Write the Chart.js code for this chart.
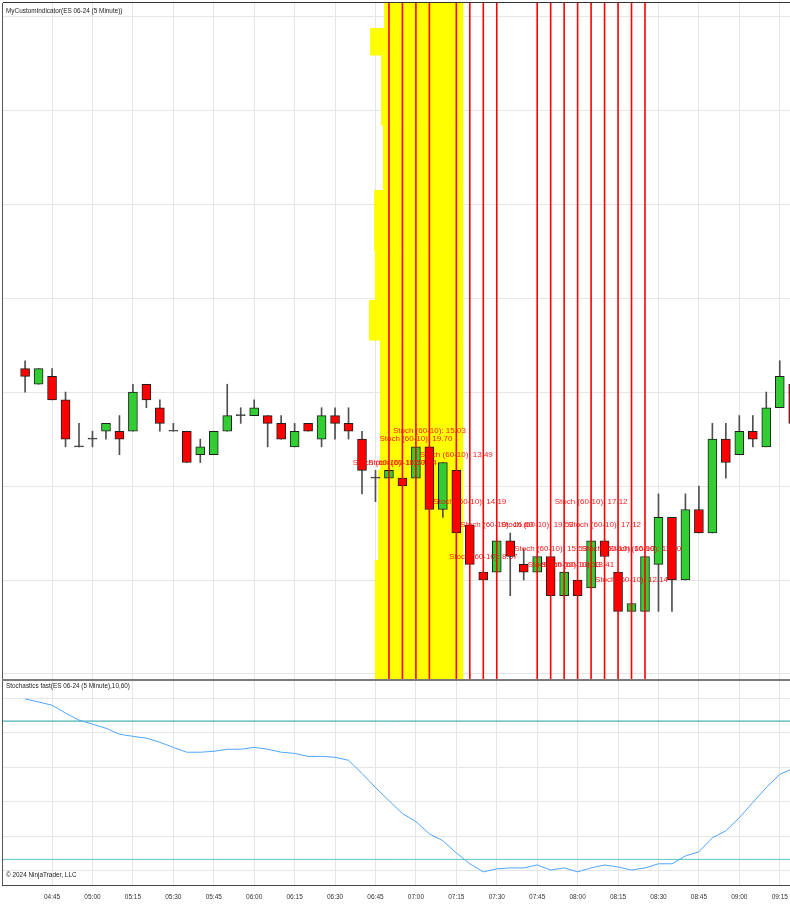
<!DOCTYPE html>
<html>
<head>
<meta charset="utf-8">
<title>MyCustomIndicator ES 06-24 (5 Minute)</title>
<script src="https://cdn.jsdelivr.net/npm/chart.js@4.4.1/dist/chart.umd.min.js"></script>
<style>
    html, body { margin: 0; padding: 0; background: #fff; overflow: hidden; }
    body { width: 790px; height: 905px; position: relative; font-family: 'Liberation Sans', Arial, sans-serif; }
    #mainWrap { position: absolute; left: 0; top: 0; width: 790px; height: 681px; }
    #stochWrap { position: absolute; left: 0; top: 681px; width: 790px; height: 224px; }
    .panel-title { position: absolute; left: 6px; font-size: 6.4px; line-height: 8px; color: #222; white-space: nowrap; }
</style>
</head>
<body>
<div id="mainWrap"><canvas id="mainChart" width="790" height="681"></canvas></div>
<div id="stochWrap"><canvas id="stochChart" width="790" height="224"></canvas></div>
<div class="panel-title" style="top:7px">MyCustomIndicator(ES 06-24 (5 Minute))</div>
<div class="panel-title" style="top:682px">Stochastics fast(ES 06-24 (5 Minute),10,60)</div>
<div class="panel-title" style="top:871px">© 2024 NinjaTrader, LLC</div>
<script>
// 5 minute bars, ES 06-24
const barTimes = ['04:35','04:40','04:45','04:50','04:55','05:00','05:05','05:10','05:15','05:20',
    '05:25','05:30','05:35','05:40','05:45','05:50','05:55','06:00','06:05','06:10',
    '06:15','06:20','06:25','06:30','06:35','06:40','06:45','06:50','06:55','07:00',
    '07:05','07:10','07:15','07:20','07:25','07:30','07:35','07:40','07:45','07:50',
    '07:55','08:00','08:05','08:10','08:15','08:20','08:25','08:30','08:35','08:40',
    '08:45','08:50','08:55','09:00','09:05','09:10','09:15','09:20'];

const openP = [5301.75,5301.25,5301.50,5300.75,5299.25,5299.50,5299.75,5299.75,5299.75,5301.25,
    5300.50,5299.75,5299.75,5299.00,5299.00,5299.75,5300.25,5300.25,5300.25,5300.00,
    5299.25,5300.00,5299.50,5300.25,5300.00,5299.50,5298.25,5298.25,5298.25,5298.25,
    5299.25,5297.25,5298.50,5296.75,5295.25,5295.25,5296.25,5295.50,5295.25,5295.75,
    5294.50,5295.00,5294.75,5296.25,5295.25,5294.00,5294.00,5295.50,5297.00,5295.00,
    5297.25,5296.50,5299.50,5299.00,5299.75,5299.25,5300.50,5301.25];
const highP = [5302.00,5301.75,5301.75,5301.00,5300.00,5299.75,5300.00,5300.25,5301.25,5301.25,
    5300.75,5300.00,5299.75,5299.50,5299.75,5301.25,5300.50,5300.75,5300.25,5300.25,
    5300.00,5300.00,5300.50,5300.50,5300.50,5299.75,5298.50,5298.50,5298.25,5299.25,
    5299.25,5298.75,5298.50,5296.75,5295.25,5296.25,5296.50,5296.00,5295.75,5295.75,
    5295.25,5295.00,5296.25,5296.25,5295.25,5294.25,5295.75,5297.75,5297.00,5297.75,
    5298.00,5300.00,5300.00,5300.25,5300.25,5301.00,5302.00,5301.25];
const lowP = [5301.00,5301.25,5300.75,5299.25,5299.25,5299.25,5299.50,5299.00,5299.75,5300.50,
    5299.75,5299.75,5298.75,5298.75,5299.00,5299.75,5300.00,5300.25,5299.25,5299.50,
    5299.25,5299.75,5299.25,5299.50,5299.50,5297.75,5297.50,5298.25,5298.00,5298.25,
    5297.25,5297.00,5296.50,5295.50,5295.00,5295.25,5294.50,5295.00,5295.25,5294.50,
    5294.50,5294.50,5294.75,5295.75,5294.00,5294.00,5294.00,5294.00,5294.00,5295.00,
    5296.50,5296.50,5298.25,5299.00,5299.25,5299.25,5300.50,5300.00];
const closeP = [5301.50,5301.75,5300.75,5299.50,5299.25,5299.50,5300.00,5299.50,5301.00,5300.75,
    5300.00,5299.75,5298.75,5299.25,5299.75,5300.25,5300.25,5300.50,5300.00,5299.50,
    5299.75,5299.75,5300.25,5300.00,5299.75,5298.50,5298.25,5298.50,5298.00,5299.25,
    5297.25,5298.75,5296.50,5295.50,5295.00,5296.25,5295.75,5295.25,5295.75,5294.50,
    5295.25,5294.50,5296.25,5295.75,5294.00,5294.25,5295.75,5297.00,5295.00,5297.25,
    5296.50,5299.50,5298.75,5299.75,5299.50,5300.50,5301.50,5300.00];

// Stochastics fast D line (10,60)
const stochD = [89.6,88.3,86.9,83.5,80.4,78.7,76.9,74.3,73.4,72.6,
    70.8,68.6,66.5,66.5,66.9,67.8,67.8,68.6,67.8,66.5,
    66.0,64.7,64.7,64.3,63.0,57.3,51.2,45.5,39.9,36.4,
    31.1,28.1,22.8,18.1,14.6,15.9,16.3,16.3,17.6,15.4,
    16.3,14.6,16.3,17.6,16.7,15.4,16.3,18.1,18.1,21.5,
    23.3,29.4,32.4,38.1,44.7,51.2,56.9,59.5];
const stochLevels = [80, 20];

// signal bars drawn by the custom indicator
const signalTimes = ['06:50','06:55','07:00','07:05','07:15','07:20','07:25','07:30',
    '07:45','07:50','07:55','08:00','08:05','08:10','08:15','08:20','08:25'];
const signalLabelPrice = [5298.73,5298.73,5299.50,5299.75,5299.00,5297.49,5295.73,5296.75,
    5296.75,5296.00,5295.50,5295.50,5297.49,5296.75,5296.00,5295.00,5296.00];
const signalValues = ['11.30','7.64','19.70','15.03','13.49','14.19','8.57','16.60',
    '19.52','15.53','10.13','13.41','17.12','17.12','16.90','12.14','11.90'];

// hand drawn yellow highlight: price bands (top to bottom) and left edge in minutes
const highlightEdges = [5313.42,5312.62,5311.76,5309.52,5307.45,5305.53,5303.94,5302.66,5298.51,5295.64,5291.84];
const highlightLeft = [408.2,403.0,407.1,407.8,404.5,404.8,402.6,406.7,406.0,404.8];
const highlightRight = 437.6;

const timeTicks = ['04:45','05:00','05:15','05:30','05:45','06:00','06:15','06:30','06:45','07:00',
    '07:15','07:30','07:45','08:00','08:15','08:30','08:45','09:00','09:15'];

const X_MIN = 266.8, X_MAX = 558.8;
const UP = '#32cd32', DOWN = '#ff0000', DOJI = '#333333';

function toMin(s) {
    const [h, m] = s.split(':').map(Number);
    return h * 60 + m;
}
function fmtMin(v) {
    const h = Math.floor(v / 60), m = Math.round(v % 60);
    return String(h).padStart(2, '0') + ':' + String(m).padStart(2, '0');
}

Chart.defaults.font.family = "'Liberation Sans', Arial, sans-serif";
Chart.defaults.animation = false;

const gridColor = '#e6e6e6';

function bodyColor(ctx) {
    const i = ctx.dataIndex;
    if (i === undefined) return UP;
    if (closeP[i] > openP[i]) return UP;
    if (closeP[i] < openP[i]) return DOWN;
    return DOJI;
}

// yellow highlight, red signal lines, labels and panel borders
const mainOverlay = {
    id: 'mainOverlay',
    beforeDatasetsDraw(chart) {
        const { ctx, chartArea } = chart;
        const xs = chart.scales.x, ys = chart.scales.y;
        ctx.save();
        ctx.beginPath();
        ctx.rect(chartArea.left, chartArea.top, chartArea.right - chartArea.left, chartArea.bottom - chartArea.top);
        ctx.clip();
        ctx.fillStyle = '#ffff00';
        const xr = xs.getPixelForValue(highlightRight);
        for (let i = 0; i < highlightLeft.length; i++) {
            const y0 = ys.getPixelForValue(highlightEdges[i]);
            const y1 = ys.getPixelForValue(highlightEdges[i + 1]);
            const xl = xs.getPixelForValue(highlightLeft[i]);
            ctx.fillRect(xl, y0, xr - xl, y1 - y0 + 0.5);
        }
        ctx.restore();
    },
    afterDatasetsDraw(chart) {
        const { ctx, chartArea } = chart;
        const xs = chart.scales.x, ys = chart.scales.y;
        ctx.save();
        ctx.strokeStyle = '#ff0000';
        ctx.lineWidth = 1.6;
        signalTimes.forEach(t => {
            const x = xs.getPixelForValue(toMin(t));
            ctx.beginPath();
            ctx.moveTo(x, chartArea.top);
            ctx.lineTo(x, chartArea.bottom);
            ctx.stroke();
        });
        ctx.fillStyle = 'rgba(255, 0, 0, 0.9)';
        ctx.font = "8px 'Liberation Sans', Arial, sans-serif";
        ctx.textAlign = 'center';
        ctx.textBaseline = 'middle';
        signalTimes.forEach((t, i) => {
            const x = xs.getPixelForValue(toMin(t));
            const y = ys.getPixelForValue(signalLabelPrice[i]);
            ctx.fillText('Stoch (60-10): ' + signalValues[i], x, y);
        });
        ctx.restore();
    },
    afterDraw(chart) {
        const { ctx, chartArea } = chart;
        ctx.save();
        ctx.strokeStyle = '#555';
        ctx.lineWidth = 1;
        ctx.beginPath();
        ctx.moveTo(chartArea.left - 0.5, chartArea.top);
        ctx.lineTo(chartArea.left - 0.5, chartArea.bottom + 2);
        ctx.stroke();
        ctx.strokeStyle = '#333';
        ctx.beginPath();
        ctx.moveTo(chartArea.left, chartArea.top - 0.5);
        ctx.lineTo(chartArea.right, chartArea.top - 0.5);
        ctx.stroke();
        ctx.strokeStyle = '#7a7a7a';
        ctx.lineWidth = 2;
        ctx.beginPath();
        ctx.moveTo(chartArea.left - 1, chartArea.bottom + 1);
        ctx.lineTo(chartArea.right, chartArea.bottom + 1);
        ctx.stroke();
        ctx.restore();
    }
};

const stochBorder = {
    id: 'stochBorder',
    afterDraw(chart) {
        const { ctx, chartArea } = chart;
        ctx.save();
        ctx.strokeStyle = '#555';
        ctx.lineWidth = 1;
        ctx.beginPath();
        ctx.moveTo(chartArea.left - 0.5, chartArea.top);
        ctx.lineTo(chartArea.left - 0.5, chartArea.bottom);
        ctx.stroke();
        ctx.strokeStyle = '#444';
        ctx.beginPath();
        ctx.moveTo(chartArea.left - 1, chartArea.bottom + 0.5);
        ctx.lineTo(chartArea.right, chartArea.bottom + 0.5);
        ctx.stroke();
        ctx.restore();
    }
};

const xScaleBase = {
    type: 'linear',
    min: X_MIN,
    max: X_MAX,
    offset: false,
    grid: { color: gridColor, offset: false, drawTicks: false },
    border: { display: false },
    afterBuildTicks: s => { s.ticks = timeTicks.map(t => ({ value: toMin(t) })); }
};

const barXs = barTimes.map(toMin);

new Chart(document.getElementById('mainChart'), {
    type: 'bar',
    data: {
        datasets: [
            {
                label: 'Body',
                data: barXs.map((x, i) => ({ x: x, y: [openP[i], closeP[i]] })),
                backgroundColor: bodyColor,
                borderColor: ctx => (bodyColor(ctx) === DOJI ? DOJI : '#1e1e1e'),
                borderWidth: 1,
                borderSkipped: false,
                barThickness: 9,
                minBarLength: 1,
                grouped: false,
                order: 0
            },
            {
                label: 'Wick',
                data: barXs.map((x, i) => ({ x: x, y: [lowP[i], highP[i]] })),
                backgroundColor: '#505050',
                borderWidth: 0,
                barThickness: 1,
                grouped: false,
                order: 1
            }
        ]
    },
    options: {
        responsive: false,
        devicePixelRatio: 1,
        layout: { padding: { left: 3, top: 3, right: 0, bottom: 2 } },
        plugins: { legend: { display: false }, tooltip: { enabled: false } },
        scales: {
            x: Object.assign({}, xScaleBase, {
                ticks: { display: false },
                afterFit: s => { s.height = 0; s.paddingLeft = 0; s.paddingRight = 0; }
            }),
            y: {
                min: 5291.84,
                max: 5313.42,
                grid: { color: gridColor, drawTicks: false },
                border: { display: false },
                ticks: { display: false, stepSize: 3, includeBounds: false },
                afterFit: s => { s.width = 0; }
            }
        }
    },
    plugins: [mainOverlay]
});

new Chart(document.getElementById('stochChart'), {
    type: 'line',
    data: {
        datasets: [
            {
                label: 'D',
                data: barXs.map((x, i) => ({ x: x, y: stochD[i] })),
                borderColor: '#4ea6ff',
                borderWidth: 1,
                pointRadius: 0,
                tension: 0
            },
            {
                label: 'Upper',
                data: [{ x: X_MIN, y: stochLevels[0] }, { x: X_MAX, y: stochLevels[0] }],
                borderColor: '#1f9f9f',
                borderWidth: 1,
                pointRadius: 0
            },
            {
                label: 'Lower',
                data: [{ x: X_MIN, y: stochLevels[1] }, { x: X_MAX, y: stochLevels[1] }],
                borderColor: '#5cc6c6',
                borderWidth: 1,
                pointRadius: 0
            }
        ]
    },
    options: {
        responsive: false,
        devicePixelRatio: 1,
        layout: { padding: { left: 3, top: 0, right: 0, bottom: 0 } },
        plugins: { legend: { display: false }, tooltip: { enabled: false } },
        scales: {
            x: Object.assign({}, xScaleBase, {
                ticks: {
                    display: true,
                    autoSkip: false,
                    maxRotation: 0,
                    padding: 8,
                    color: '#333',
                    font: { size: 6.5 },
                    callback: v => fmtMin(v)
                },
                afterFit: s => { s.height = 20; s.paddingLeft = 0; s.paddingRight = 0; }
            }),
            y: {
                min: 8.9,
                max: 97.4,
                grid: { color: gridColor, drawTicks: false },
                border: { display: false },
                ticks: { display: false, stepSize: 15, includeBounds: false },
                afterFit: s => { s.width = 0; }
            }
        }
    },
    plugins: [stochBorder]
});
</script>
</body>
</html>
